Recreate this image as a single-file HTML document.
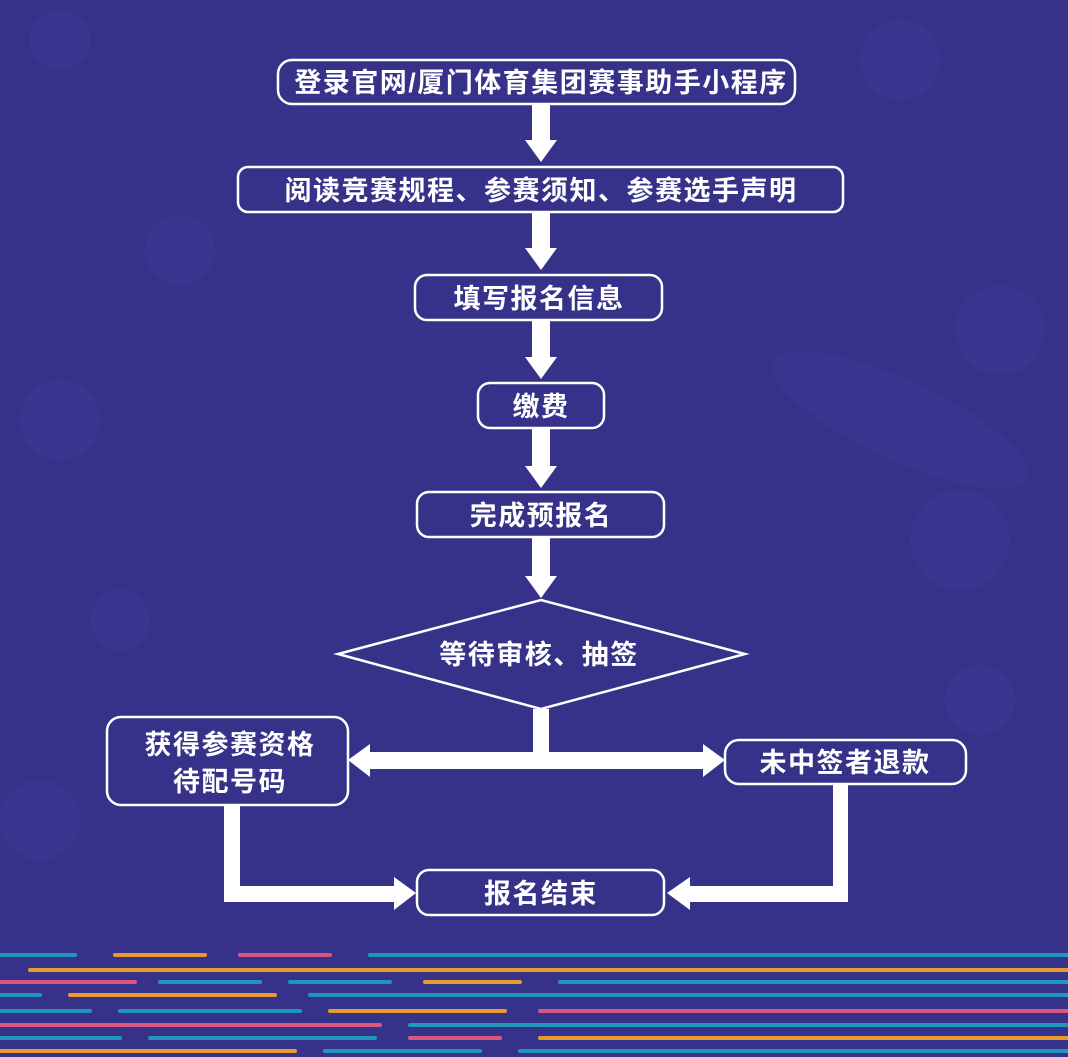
<!DOCTYPE html>
<html><head><meta charset="utf-8"><style>
html,body{margin:0;padding:0;background:#363289;}
svg{display:block}
text{font-family:"Liberation Sans","Noto Sans CJK SC",sans-serif;font-weight:bold;fill:#fff;font-size:27px;letter-spacing:1.5px;}
</style></head><body>
<svg width="1068" height="1057" viewBox="0 0 1068 1057" xmlns="http://www.w3.org/2000/svg">
<rect width="1068" height="1057" fill="#363289"/>
<g fill="#3b3792" opacity="0.8">
<circle cx="60" cy="40" r="30"/><circle cx="900" cy="60" r="40"/><circle cx="1000" cy="330" r="45"/>
<circle cx="60" cy="420" r="40"/><circle cx="960" cy="540" r="50"/><circle cx="180" cy="250" r="35"/>
<ellipse cx="900" cy="420" rx="140" ry="40" transform="rotate(25 900 420)"/>
<circle cx="120" cy="620" r="30"/><circle cx="980" cy="700" r="35"/><circle cx="40" cy="820" r="40"/>
</g>
<g stroke-linecap="round" stroke-width="4">
<line x1="0" y1="955" x2="75" y2="955" stroke="#1f97b8"/><line x1="115" y1="955" x2="205" y2="955" stroke="#e89a2f"/><line x1="240" y1="955" x2="330" y2="955" stroke="#d9577f"/><line x1="370" y1="955" x2="1068" y2="955" stroke="#1f97b8"/>
<line x1="30" y1="970" x2="1068" y2="970" stroke="#e89a2f"/>
<line x1="0" y1="982" x2="135" y2="982" stroke="#d9577f"/><line x1="160" y1="982" x2="260" y2="982" stroke="#1f97b8"/><line x1="290" y1="982" x2="390" y2="982" stroke="#1f97b8"/><line x1="425" y1="982" x2="520" y2="982" stroke="#e89a2f"/><line x1="560" y1="982" x2="1068" y2="982" stroke="#1f97b8"/>
<line x1="0" y1="995" x2="40" y2="995" stroke="#1f97b8"/><line x1="70" y1="995" x2="275" y2="995" stroke="#e89a2f"/><line x1="310" y1="995" x2="1068" y2="995" stroke="#1f97b8"/>
<line x1="0" y1="1011" x2="90" y2="1011" stroke="#1f97b8"/><line x1="120" y1="1011" x2="300" y2="1011" stroke="#1f97b8"/><line x1="330" y1="1011" x2="505" y2="1011" stroke="#e89a2f"/><line x1="540" y1="1011" x2="1068" y2="1011" stroke="#d9577f"/>
<line x1="0" y1="1025" x2="380" y2="1025" stroke="#d9577f"/><line x1="410" y1="1025" x2="1068" y2="1025" stroke="#1f97b8"/>
<line x1="0" y1="1038" x2="120" y2="1038" stroke="#1f97b8"/><line x1="150" y1="1038" x2="375" y2="1038" stroke="#1f97b8"/><line x1="410" y1="1038" x2="500" y2="1038" stroke="#d9577f"/><line x1="540" y1="1038" x2="1068" y2="1038" stroke="#e89a2f"/>
<line x1="0" y1="1051" x2="295" y2="1051" stroke="#e89a2f"/><line x1="325" y1="1051" x2="480" y2="1051" stroke="#1f97b8"/><line x1="520" y1="1051" x2="1068" y2="1051" stroke="#1f97b8"/>
</g>
<g fill="#fff">
<rect x="532" y="104" width="18" height="38"/><polygon points="525,140 557,140 541,162"/>
<rect x="532" y="212" width="18" height="38"/><polygon points="525,248 557,248 541,270"/>
<rect x="532" y="320" width="18" height="40"/><polygon points="525,357 557,357 541,379"/>
<rect x="532" y="428" width="18" height="40"/><polygon points="525,466 557,466 541,488"/>
<rect x="532" y="537" width="18" height="42"/><polygon points="525,576 557,576 541,598"/>
<rect x="533" y="709" width="16" height="55"/>
<rect x="368" y="752" width="338" height="17"/>
<polygon points="370,744 370,777 348,760"/><polygon points="703,744 703,777 725,760"/>
<rect x="224" y="805" width="16" height="97"/><rect x="224" y="886" width="172" height="16"/><polygon points="394,877 394,910 416,893"/>
<rect x="833" y="784" width="15" height="118"/><rect x="688" y="886" width="160" height="16"/><polygon points="690,877 690,910 667,893"/>
</g>
<g fill="#363289" stroke="#fff" stroke-width="2.5">
<rect x="278" y="60" width="517" height="44" rx="14"/>
<rect x="238" y="167" width="605" height="45" rx="10"/>
<rect x="415" y="275" width="247" height="45" rx="12"/>
<rect x="478" y="383" width="126" height="45" rx="12"/>
<rect x="417" y="492" width="247" height="45" rx="12"/>
<polygon points="338,654 541,600 745,654 541,709"/>
<rect x="107" y="717" width="241" height="88" rx="14"/>
<rect x="725" y="740" width="241" height="44" rx="14"/>
<rect x="417" y="870" width="247" height="45" rx="12"/>
</g>
<g text-anchor="middle">
<text x="541" y="92">登录官网/厦门体育集团赛事助手小程序</text>
<text x="541" y="200">阅读竞赛规程、参赛须知、参赛选手声明</text>
<text x="539" y="308">填写报名信息</text>
<text x="541" y="416">缴费</text>
<text x="541" y="525">完成预报名</text>
<text x="539" y="664">等待审核、抽签</text>
<text x="230" y="754">获得参赛资格</text>
<text x="230" y="791">待配号码</text>
<text x="845" y="772">未中签者退款</text>
<text x="541" y="903">报名结束</text>
</g>
</svg>
</body></html>
